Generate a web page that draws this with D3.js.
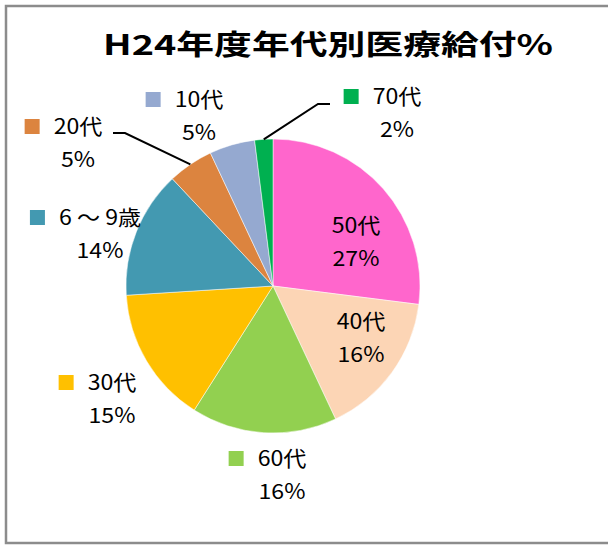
<!DOCTYPE html>
<html>
<head>
<meta charset="utf-8">
<script src="https://cdn.jsdelivr.net/npm/d3@7"></script>
<style>
  body { margin: 0; background: #fff; }
  text { font-family: "Noto Sans CJK JP", "Noto Sans", sans-serif; }
</style>
</head>
<body>
<div id="chart"></div>
<script>
// data, clockwise from 12 o'clock
var categories = ["50代", "40代", "60代", "30代", "6 ～ 9歳", "20代", "10代", "70代"];
var values = [27, 16, 16, 15, 14, 5, 5, 2];
var colors = ["#ff66cc", "#fcd5b5", "#92d050", "#ffc000", "#4399b1", "#dc843f", "#95a9d0", "#00b050"];

// where Excel put each label (name line centre), and which ones carry a key square
var labelAt = [[356, 226], [361, 322], [282, 459], [112, 383], [100, 218], [78, 127], [199, 100], [397, 97]];
var showKey = [false, false, true, true, true, true, true, true];
// leader lines: start point of the short horizontal piece, direction of that piece
var leaders = {5: {x: 113, y: 133, dx: 12}, 7: {x: 330, y: 104, dx: -12}};

var width = 608, height = 546;
var cx = 273, cy = 286, radius = 147;
var stretch = 1.1;

var svg = d3.select("#chart").append("svg")
    .attr("width", width).attr("height", height);

// chart frame
svg.append("rect")
    .attr("x", 6).attr("y", 6)
    .attr("width", 640).attr("height", 537)
    .attr("fill", "#fff")
    .attr("stroke", "#8c8c8c")
    .attr("stroke-width", 2.5);

svg.append("text")
    .attr("x", 328).attr("y", 55)
    .attr("text-anchor", "middle")
    .attr("font-size", 28)
    .attr("font-weight", "bold")
    .attr("textLength", 450)
    .attr("lengthAdjust", "spacingAndGlyphs")
    .text("H24年度年代別医療給付%");

var data = categories.map(function(c, i) { return {name: c, value: values[i], color: colors[i], i: i}; });

var pie = d3.pie().sort(null).value(function(d) { return d.value; });
var arc = d3.arc().innerRadius(0).outerRadius(radius);
var arcs = pie(data);

var g = svg.append("g").attr("transform", "translate(" + cx + "," + cy + ")");

g.selectAll("path")
    .data(arcs)
    .enter()
    .append("path")
    .attr("d", arc)
    .attr("fill", function(d) { return d.data.color; })
    .attr("stroke", "#fff")
    .attr("stroke-width", 0.5);

// leader lines
Object.keys(leaders).forEach(function(k) {
    var a = arcs[+k];
    var mid = (a.startAngle + a.endAngle) / 2;
    var L = leaders[k];
    var ex = cx + radius * Math.sin(mid), ey = cy - radius * Math.cos(mid);
    svg.append("polyline")
        .attr("points", [[L.x, L.y], [L.x + L.dx, L.y], [ex, ey]].map(function(p) { return p.join(","); }).join(" "))
        .attr("fill", "none")
        .attr("stroke", "#000")
        .attr("stroke-width", 2);
});

// labels
var lab = svg.selectAll("g.lab")
    .data(data)
    .enter()
    .append("g")
    .attr("class", "lab")
    .attr("transform", function(d) { return "translate(" + labelAt[d.i][0] + "," + labelAt[d.i][1] + ")"; });

lab.append("text")
    .attr("text-anchor", "middle")
    .attr("dy", "0.35em")
    .attr("font-size", 21)
    .attr("transform", "scale(" + stretch + ",1)")
    .text(function(d) { return d.name; });

lab.append("text")
    .attr("text-anchor", "middle")
    .attr("y", 33)
    .attr("dy", "0.35em")
    .attr("font-size", 21)
    .attr("transform", "scale(" + stretch + ",1)")
    .text(function(d) { return d.value + "%"; });

lab.each(function(d) {
    if (!showKey[d.i]) return;
    var t = d3.select(this).select("text").node();
    var w = t.getComputedTextLength() * stretch;
    d3.select(this).append("rect")
        .attr("x", -w / 2 - 29).attr("y", -8)
        .attr("width", 15).attr("height", 15)
        .attr("fill", d.color);
});
</script>
</body>
</html>
